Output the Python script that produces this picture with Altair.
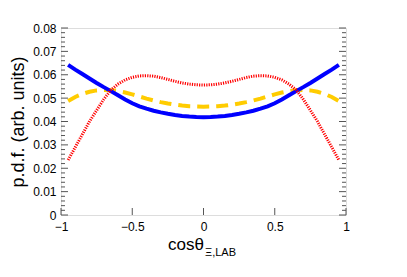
import altair as alt
import pandas as pd

# x positions (cos theta)
x_left = [-0.95, -0.9, -0.85, -0.8, -0.75, -0.7, -0.65, -0.6, -0.55, -0.5,
          -0.45, -0.4, -0.35, -0.3, -0.25, -0.2, -0.15, -0.1, -0.05, 0.0]
x_vals = x_left + [-v for v in reversed(x_left[:-1])]

blue_left = [0.0642, 0.0622, 0.0603, 0.0584, 0.0565, 0.0547, 0.0530, 0.0512, 0.0494, 0.0478,
             0.0465, 0.0455, 0.0446, 0.0439, 0.0433, 0.0428, 0.0424, 0.0421, 0.0419, 0.0418]
red_left = [0.0235, 0.0290, 0.0345, 0.0400, 0.0448, 0.0495, 0.0535, 0.0560, 0.0578, 0.0589,
            0.0595, 0.0596, 0.0594, 0.0588, 0.0580, 0.0572, 0.0565, 0.0560, 0.0557, 0.0556]
yellow_left = [0.0488, 0.0505, 0.0518, 0.0527, 0.0533, 0.0535, 0.0534, 0.0530, 0.0524, 0.0516,
               0.0507, 0.0498, 0.0490, 0.0483, 0.0477, 0.0472, 0.0468, 0.0465, 0.0464, 0.0463]

def mirror(v):
    return v + list(reversed(v[:-1]))

blue = mirror(blue_left)
red = mirror(red_left)
yellow = mirror(yellow_left)

y_major = [0.0, 0.01, 0.02, 0.03, 0.04, 0.05, 0.06, 0.07, 0.08]
y_minor = [round(i * 0.002, 3) for i in range(41)]
x_major = [-1.0, -0.5, 0.0, 0.5, 1.0]

W, H = 285, 187
FONT = "Liberation Sans"

xs = alt.Scale(domain=[-1, 1], nice=False, zero=False)
ys = alt.Scale(domain=[0, 0.08], nice=False)

xaxis = alt.Axis(values=x_major, format="~g", ticks=False, domain=False,
                 grid=False, labelFont=FONT, labelFontSize=12,
                 labelColor="black", labelPadding=6, title=None,
                 labelFlush=False, labelOverlap=False)
yaxis = alt.Axis(values=y_major, format="~g", ticks=False, domain=False,
                 grid=False, labelFont=FONT, labelFontSize=12,
                 labelColor="black", labelPadding=5,
                 labelOverlap=False, labelFlush=False,
                 title="p.d.f. (arb. units)", titleFont=FONT,
                 titleFontSize=18, titleFontWeight="normal",
                 titleColor="black", titleAngle=270,
                 titleX=-43, titleY=H / 2, titleAlign="center",
                 titleBaseline="middle")

def X():
    return alt.X("x:Q", scale=xs, axis=xaxis)

def Y():
    return alt.Y("y:Q", scale=ys, axis=yaxis)

def line_df(vals):
    return pd.DataFrame({"x": x_vals, "y": vals})

yellow_l = alt.Chart(line_df(yellow)).mark_line(color="#ffcc00", strokeWidth=4,
                                                strokeDash=[12, 7]).encode(x=X(), y=Y())
blue_l = alt.Chart(line_df(blue)).mark_line(color="#0000ff", strokeWidth=4).encode(x=X(), y=Y())
red_l = alt.Chart(line_df(red)).mark_line(color="#ff0000", strokeWidth=3,
                                          strokeDash=[1.2, 1.2]).encode(x=X(), y=Y())

# inward ticks
ymaj_df = pd.DataFrame({"y": y_major})
ymin_df = pd.DataFrame({"y": [v for v in y_minor if round(v / 0.01, 6) % 1 != 0]})
xmaj_df = pd.DataFrame({"x": x_major})
tick_color = "#555555"

left_major = alt.Chart(ymaj_df).mark_rule(color=tick_color, strokeWidth=1).encode(
    y=Y(), x=alt.value(0), x2=alt.value(7))
left_minor = alt.Chart(ymin_df).mark_rule(color=tick_color, strokeWidth=1).encode(
    y=Y(), x=alt.value(0), x2=alt.value(4))
right_major = alt.Chart(ymaj_df).mark_rule(color=tick_color, strokeWidth=1).encode(
    y=Y(), x=alt.value(W), x2=alt.value(W - 7))
right_minor = alt.Chart(ymin_df).mark_rule(color=tick_color, strokeWidth=1).encode(
    y=Y(), x=alt.value(W), x2=alt.value(W - 4))
bottom_major = alt.Chart(xmaj_df).mark_rule(color=tick_color, strokeWidth=1).encode(
    x=X(), y=alt.value(H), y2=alt.value(H - 7))

title_main = alt.Chart(pd.DataFrame({"t": ["cosθ"]})).mark_text(
    font=FONT, fontSize=17, align="left", baseline="alphabetic", color="black").encode(
    text="t:N", x=alt.value(107), y=alt.value(222))
title_sub = alt.Chart(pd.DataFrame({"t": ["Ξ,LAB"]})).mark_text(
    font=FONT, fontSize=11, align="left", baseline="alphabetic", color="black").encode(
    text="t:N", x=alt.value(144), y=alt.value(228))

chart = alt.layer(
    yellow_l, blue_l, red_l, left_major, left_minor, right_major, right_minor, bottom_major,
    title_main, title_sub
).properties(
    width=W, height=H, autosize=alt.AutoSizeParams(type="none"),
    padding={"left": 53, "top": 20, "right": 50, "bottom": 50}
).configure_view(stroke="#555555", strokeWidth=1.2).configure(background="white")

chart.save("out.html", embed_options={"renderer": "svg", "actions": False})
